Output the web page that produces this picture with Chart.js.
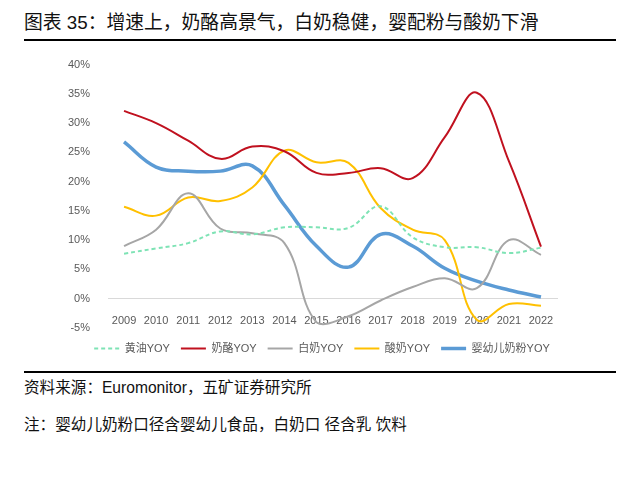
<!DOCTYPE html>
<html>
<head>
<meta charset="utf-8">
<script src="https://cdn.jsdelivr.net/npm/chart.js@4"></script>
<style>
  body { margin: 0; width: 631px; height: 481px; background: #fff; font-family: "Liberation Sans", "Noto Sans CJK SC", sans-serif; position: relative; overflow: hidden; }
  .title { position: absolute; left: 24px; top: 7px; font-size: 18.8px; color: #111; }
  .rule { position: absolute; left: 24px; width: 592px; height: 2px; background: #000; }
  .note { position: absolute; left: 24px; font-size: 15.6px; color: #111; }
  #wrap { position: absolute; left: 50px; top: 48px; width: 544px; height: 318px; }
</style>
</head>
<body>
<div class="title">图表 35：增速上，奶酪高景气，白奶稳健，婴配粉与酸奶下滑</div>
<div class="rule" style="top:39px"></div>
<div id="wrap"><canvas id="c"></canvas></div>
<div class="rule" style="top:371px"></div>
<div class="note" style="top:375px">资料来源：Euromonitor，五矿证券研究所</div>
<div class="note" style="top:412px">注：婴幼儿奶粉口径含婴幼儿食品，白奶口 径含乳 饮料</div>
<script>
const years = ['2009','2010','2011','2012','2013','2014','2015','2016','2017','2018','2019','2020','2021','2022'];
const butter = [7.7, 8.6, 9.5, 11.5, 11.0, 12.2, 12.2, 12.1, 15.8, 10.5, 8.8, 8.8, 7.8, 8.7];
const cheese = [32.1, 30.0, 27.0, 23.9, 26.0, 25.2, 21.5, 21.5, 22.3, 20.6, 27.6, 35.2, 23.5, 8.9];
const whiteMilk = [9.0, 11.8, 18.0, 12.0, 11.2, 9.5, -4.0, -3.0, -0.3, 2.0, 3.5, 1.8, 10.0, 7.5];
const yogurt = [15.7, 14.2, 17.3, 16.7, 19.0, 25.3, 23.3, 23.2, 15.5, 11.8, 10.0, -3.6, -0.9, -1.2];
const infant = [26.8, 22.5, 21.8, 21.8, 22.7, 16.0, 9.0, 5.4, 11.0, 9.0, 5.2, 3.0, 1.5, 0.3];
const yTicks = [-5, 0, 5, 10, 15, 20, 25, 30, 35, 40];

const grey = '#595959';
function line(label, data, color, width, dash) {
    return {
        label: label,
        data: data,
        xAxisID: 'x',
        yAxisID: 'y',
        borderColor: color,
        backgroundColor: color,
        borderWidth: width,
        borderDash: dash || [],
        pointRadius: 0,
        tension: 0.4,
        fill: false
    };
}

// blank axis used only to reserve space
function spacer(pos, size) {
    return {
        type: 'category',
        position: pos,
        labels: years,
        grid: { display: false },
        border: { display: false },
        ticks: { display: false },
        afterFit: s => {
            if (pos === 'bottom') s.height = size; else s.width = size;
        }
    };
}

new Chart(document.getElementById('c').getContext('2d'), {
    type: 'line',
    data: {
        labels: years,
        datasets: [
            line('黄油YOY', butter, '#7ee3b5', 2, [4, 3]),
            line('奶酪YOY', cheese, '#c0111f', 2),
            line('白奶YOY', whiteMilk, '#a6a6a6', 2),
            line('酸奶YOY', yogurt, '#ffc000', 2),
            line('婴幼儿奶粉YOY', infant, '#5b9bd5', 3.5)
        ]
    },
    options: {
        responsive: true,
        maintainAspectRatio: false,
        animation: false,
        layout: { padding: { top: 4, bottom: 2 } },
        plugins: {
            tooltip: { enabled: false },
            legend: {
                position: 'bottom',
                labels: {
                    usePointStyle: true,
                    pointStyle: 'line',
                    pointStyleWidth: 25,
                    boxHeight: 2,
                    color: grey,
                    font: { size: 11, family: '"Liberation Sans", "Noto Sans CJK SC"' },
                    padding: 11,
                    generateLabels: chart => Chart.defaults.plugins.legend.labels.generateLabels(chart).map(item => {
                        const ds = chart.data.datasets[item.datasetIndex];
                        item.strokeStyle = ds.borderColor;
                        item.lineWidth = ds.borderWidth;
                        item.lineDash = ds.borderDash;
                        return item;
                    })
                }
            }
        },
        scales: {
            x: {
                position: { y: 0 },
                offset: true,
                grid: { display: false },
                border: { color: '#d9d9d9', width: 1 },
                ticks: { color: grey, font: { size: 11 }, padding: 8, maxRotation: 0 }
            },
            gapBottom: spacer('bottom', 4),
            gapRight: spacer('right', 37),
            y: {
                min: -5,
                max: 40,
                afterBuildTicks: s => { s.ticks = yTicks.map(v => ({ value: v })); },
                afterFit: s => { s.width = 58; },
                grid: { display: false },
                border: { display: false },
                ticks: { color: grey, font: { size: 11 }, padding: 10, callback: v => v + '%' }
            }
        }
    }
});
</script>
</body>
</html>
